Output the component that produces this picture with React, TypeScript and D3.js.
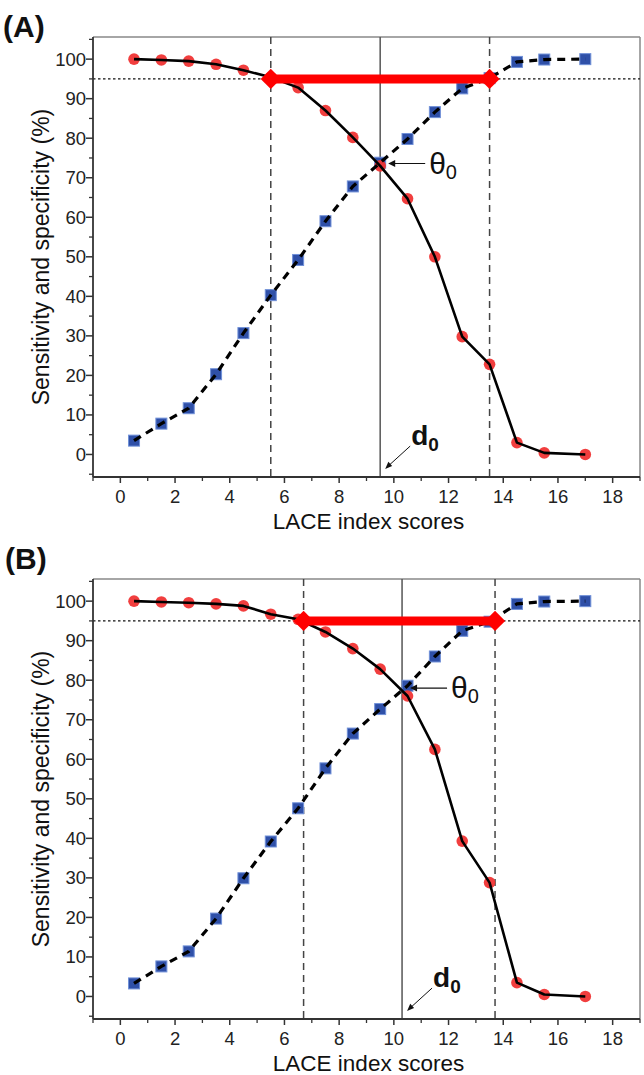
import React from 'react';
import * as d3 from 'd3';

// LACE index scores (x positions of points)
const scores = [0.5, 1.5, 2.5, 3.5, 4.5, 5.5, 6.5, 7.5, 8.5, 9.5, 10.5, 11.5, 12.5, 13.5, 14.5, 15.5, 17];

// Panel A
const specificityA = [100, 99.8, 99.5, 98.7, 97.2, 95.4, 92.8, 87.0, 80.2, 73.0, 64.7, 50.0, 29.8, 22.8, 3.0, 0.4, 0];
const sensitivityA = [3.5, 7.8, 11.7, 20.3, 30.7, 40.3, 49.2, 59.0, 67.8, 73.8, 79.8, 86.6, 92.6, 95.2, 99.3, 99.9, 100];
const cutoffsA = [5.5, 13.5];
const d0A = 9.5;
const thetaA = 73.6;

// Panel B
const specificityB = [100, 99.8, 99.6, 99.3, 98.8, 96.7, 95.4, 92.2, 88.0, 82.8, 76.0, 62.5, 39.3, 28.8, 3.5, 0.5, 0];
const sensitivityB = [3.3, 7.6, 11.4, 19.7, 29.9, 39.2, 47.6, 57.7, 66.5, 72.7, 78.6, 86.0, 92.5, 94.8, 99.3, 99.9, 100];
const cutoffsB = [6.7, 13.7];
const d0B = 10.3;
const thetaB = 78.0;

const level95 = 95;
const xTickValues = [0, 2, 4, 6, 8, 10, 12, 14, 16, 18];
const xMinorValues = [-1, 1, 3, 5, 7, 9, 11, 13, 15, 17, 19];
const yTickValues = [0, 10, 20, 30, 40, 50, 60, 70, 80, 90, 100];
const yMinorValues = [-5, 5, 15, 25, 35, 45, 55, 65, 75, 85, 95, 105];

const FONT = '"Liberation Sans", Arial, Helvetica, sans-serif';

type PanelProps = {
  top: number;
  label: string;
  labelX: number;
  labelY: number;
  spec: number[];
  sens: number[];
  cutoffs: number[];
  d0: number;
  theta: number;
};

function Panel({ top, label, labelX, labelY, spec, sens, cutoffs, d0, theta }: PanelProps) {
  const x = d3.scaleLinear().domain([-1, 19]).range([93, 640]);
  const y = d3.scaleLinear().domain([-5.7, 105.6]).range([top + 440, top]);
  const [x0, x1] = x.range();
  const [yb, yt] = y.range();

  const redLine = d3
    .line<number>()
    .x((_, i) => x(scores[i]))
    .y((d) => y(d))
    .curve(d3.curveLinear)(spec) as string;
  const blueLine = d3
    .line<number>()
    .x((_, i) => x(scores[i]))
    .y((d) => y(d))
    .curve(d3.curveLinear)(sens) as string;

  const diamond = d3.symbol(d3.symbolDiamond2, 260)() as string;

  const thX = x(d0);
  const thY = y(theta);
  const dArrowHeadX = x(d0) + 5;
  const dArrowHeadY = y(-3.7);

  return (
    <g>
      <text x={labelX} y={labelY} fontFamily={FONT} fontWeight="bold" fontSize={30} fill="#111">
        {label}
      </text>

      {/* frame */}
      <line x1={x0} x2={x1} y1={yt} y2={yt} stroke="#888" strokeWidth={1.5} />
      <line x1={x1} x2={x1} y1={yt} y2={yb} stroke="#888" strokeWidth={1.5} />

      {/* 95% dotted level */}
      <line x1={x0} x2={x1} y1={y(level95)} y2={y(level95)} stroke="#111" strokeWidth={1.2} strokeDasharray="2.5,2.5" />

      {/* cutoff dashed lines */}
      {cutoffs.map((c) => (
        <line key={c} x1={x(c)} x2={x(c)} y1={yt} y2={yb} stroke="#444" strokeWidth={1.5} strokeDasharray="7,5" />
      ))}
      {/* d0 solid line */}
      <line x1={x(d0)} x2={x(d0)} y1={yt} y2={yb} stroke="#555" strokeWidth={1.5} />

      {/* markers */}
      {sens.map((v, i) => (
        <rect
          key={'s' + i}
          x={x(scores[i]) - 5.5}
          y={y(v) - 5.5}
          width={11}
          height={11}
          fill="#2f50a8"
          stroke="#7090d8"
          strokeWidth={1}
        />
      ))}
      {spec.map((v, i) => (
        <circle key={'c' + i} cx={x(scores[i])} cy={y(v)} r={5.8} fill="#f03434" opacity={0.95} />
      ))}

      {/* lines */}
      <path d={blueLine} fill="none" stroke="#000" strokeWidth={3.2} strokeDasharray="8,6" />
      <path d={redLine} fill="none" stroke="#000" strokeWidth={2.6} strokeLinejoin="round" />

      {/* red bar with diamonds */}
      <line x1={x(cutoffs[0])} x2={x(cutoffs[1])} y1={y(level95)} y2={y(level95)} stroke="#ff0000" strokeWidth={9} />
      {cutoffs.map((c) => (
        <path key={'d' + c} d={diamond} transform={`translate(${x(c)},${y(level95)})`} fill="#ff0000" />
      ))}

      {/* theta annotation */}
      <line x1={thX + 45} x2={thX + 12} y1={thY} y2={thY} stroke="#111" strokeWidth={1.2} />
      <path d={`M${thX + 8},${thY} l7,-3.5 l0,7 z`} fill="#111" />
      <text x={thX + 49} y={thY + 10} fontFamily={FONT} fontSize={30} fill="#111">
        θ<tspan fontSize={20} dy={5}>0</tspan>
      </text>

      {/* d0 annotation */}
      <line x1={dArrowHeadX + 25} x2={dArrowHeadX + 3} y1={dArrowHeadY - 23} y2={dArrowHeadY - 3} stroke="#111" strokeWidth={1} />
      <path d={`M${dArrowHeadX},${dArrowHeadY} l3.2,-7.4 l3.8,4.2 z`} fill="#111" />
      <text x={x(d0) + 31} y={dArrowHeadY - 24} fontFamily={FONT} fontWeight="bold" fontSize={28} fill="#111">
        d<tspan fontSize={19} dy={6}>0</tspan>
      </text>

      {/* axes */}
      <line x1={x0} x2={x0} y1={yt} y2={yb} stroke="#333" strokeWidth={1.8} />
      <line x1={x0} x2={x1} y1={yb} y2={yb} stroke="#333" strokeWidth={1.8} />
      {yTickValues.map((t) => (
        <g key={'yt' + t}>
          <line x1={x0 - 7} x2={x0} y1={y(t)} y2={y(t)} stroke="#333" strokeWidth={1.5} />
          <text x={x0 - 7} y={y(t) + 6.5} textAnchor="end" fontFamily={FONT} fontSize={18.5} fill="#222">
            {t}
          </text>
        </g>
      ))}
      {yMinorValues.map((t) => (
        <line key={'ym' + t} x1={x0 - 4} x2={x0} y1={y(t)} y2={y(t)} stroke="#333" strokeWidth={1.3} />
      ))}
      {xTickValues.map((t) => (
        <g key={'xt' + t}>
          <line x1={x(t)} x2={x(t)} y1={yb} y2={yb + 6} stroke="#333" strokeWidth={1.5} />
          <text x={x(t)} y={yb + 26} textAnchor="middle" fontFamily={FONT} fontSize={18.5} fill="#222">
            {t}
          </text>
        </g>
      ))}
      {xMinorValues.map((t) => (
        <line key={'xm' + t} x1={x(t)} x2={x(t)} y1={yb} y2={yb + 4} stroke="#333" strokeWidth={1.3} />
      ))}

      <text x={(x0 + x1) / 2 + 2} y={yb + 52} textAnchor="middle" fontFamily={FONT} fontSize={22.5} fill="#111">
        LACE index scores
      </text>
      <text
        transform={`translate(49,${(yt + yb) / 2}) rotate(-90)`}
        textAnchor="middle"
        fontFamily={FONT}
        fontSize={23}
        fill="#111"
      >
        Sensitivity and specificity (%)
      </text>
    </g>
  );
}

export default function App() {
  return (
    <div style={{ position: 'absolute', left: 0, top: 0 }}>
      <svg width={644} height={1075} style={{ display: 'block', background: '#fff' }}>
        <rect width={644} height={1075} fill="#fff" />
        <Panel
          top={37}
          label="(A)"
          labelX={3}
          labelY={37}
          spec={specificityA}
          sens={sensitivityA}
          cutoffs={cutoffsA}
          d0={d0A}
          theta={thetaA}
        />
        <Panel
          top={579}
          label="(B)"
          labelX={5}
          labelY={569}
          spec={specificityB}
          sens={sensitivityB}
          cutoffs={cutoffsB}
          d0={d0B}
          theta={thetaB}
        />
      </svg>
    </div>
  );
}
